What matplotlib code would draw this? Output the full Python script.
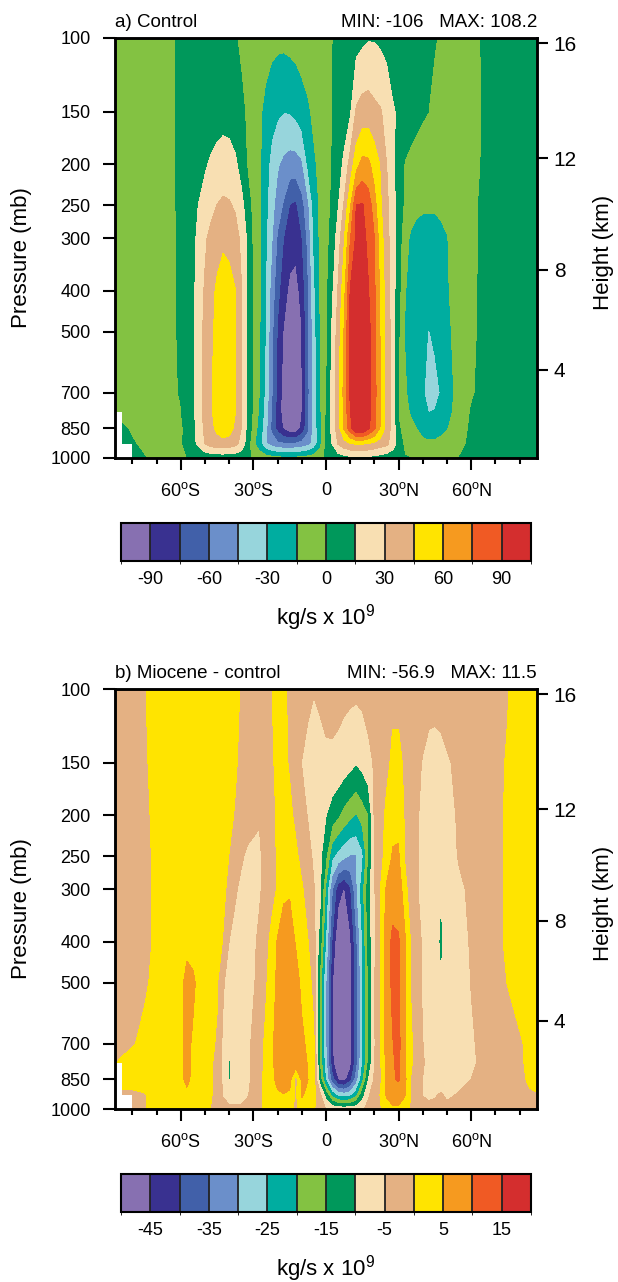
import numpy as np
import matplotlib
matplotlib.use("Agg")
import matplotlib.pyplot as plt
from matplotlib.colors import ListedColormap, BoundaryNorm
from matplotlib.cm import ScalarMappable
from matplotlib.ticker import NullLocator

plt.rcParams['font.family'] = ['Liberation Sans', 'DejaVu Sans']
plt.rcParams['mathtext.fontset'] = 'custom'
plt.rcParams['mathtext.rm'] = 'Liberation Sans'
plt.rcParams['mathtext.it'] = 'Liberation Sans:italic'
plt.rcParams['mathtext.bf'] = 'Liberation Sans:bold'

# ---------------- data ----------------
lats = [-87.2, -84.3, -80, -75, -70, -65, -60, -57.5, -55, -50,
        -47.5, -45, -42.5, -40, -37.5, -35, -32.5, -30, -27.5, -25,
        -22.5, -20, -17.5, -15, -12.5, -10, -7.5, -5, -2.5, 0,
        2.5, 5, 7.5, 10, 12.5, 15, 17.5, 20, 22.5, 25,
        27.5, 30, 32.5, 35, 37.5, 40, 42.5, 45, 47.5, 50,
        55, 60, 65, 70, 75, 80, 84.3, 87.2]
plevs = [1000, 925, 850, 775, 700, 500, 400, 300, 250, 200, 150, 100]

# mass streamfunction (kg/s x 1e9), one row per pressure level
psi_control = [
    [2, 2, 2, 0.3, -1.5, -2, -1, -0.3, 1.5, 3.5,
     4.5, 5, 5, 5, 4.5, 3.5, 1.5, -1.5, -4, -7,
     -9, -11, -12, -12, -12, -11, -9, -7, -3, 1,
     4, 7, 9, 11, 12, 12, 11, 10, 8, 6,
     4, 2.5, 1, -0.1, -1.5, -3, -4, -4, -3.5, -2.5,
     0.1, 2, 3, 4, 4, 4, 3, 3],
    [2, 2, 0.6, -1.5, -2.5, -2, -1.2, 2.7, 9.5, 30.3,
     36, 39, 40, 38, 34, 26, 7.2, -11.5, -25.2, -43.2,
     -52, -57, -59, -59.5, -58, -55, -50, -40.7, -20.2, 2.5,
     15, 31, 39, 44, 46, 46, 44, 41, 37, 33.5,
     23.3, 8.75, -4, -7, -9, -11, -12, -12, -11, -9,
     -3, 2, 4, 5, 5, 5, 4, 3],
    [2, 1, -1, -3, -3, -2, -2.5, 3.8, 10.6, 33.3,
     41.7, 48, 53, 51, 41.7, 30, 11.3, -6, -21.3, -39.7,
     -63.2, -80.4, -92, -100, -100, -86.5, -64.3, -40.7, -19.8, 2,
     19.8, 37.9, 62.1, 84.3, 105, 106, 93, 77.6, 58.5, 39.2,
     24.6, 1.5, -4.9, -10, -15.2, -21, -24, -23, -19, -16,
     -6.5, 2, 4, 5, 5, 5, 4, 3],
    [-1, -2, -3, -3, -3, -2, -0.5, 5.5, 11.5, 34.8,
     43.5, 50, 56, 54, 45.5, 31, 13, -3.5, -17.5, -36.6,
     -60.3, -81.3, -98, -106, -104, -91, -64.4, -39.6, -18, -0.6,
     20, 38.7, 63.2, 89.3, 106, 108, 96, 79.8, 60.3, 39.6,
     24.6, -1.5, -9.2, -17, -23, -27, -30.5, -29.5, -25, -19,
     -10, 0.7, 3, 4, 5, 5, 4, 3],
    [-2, -2, -3, -3, -3, -2, 0.5, 6, 11.8, 34.8,
     43.9, 50, 56, 54, 45.5, 31.1, 13.6, -3, -15.5, -34.2,
     -58, -80, -97, -106, -104, -91, -65, -38.7, -17, -2.5,
     20, 39.2, 65.4, 92, 106, 108, 96, 80.5, 60.3, 39.6,
     24.6, -1.7, -12.4, -20, -25, -28.5, -35, -34, -29.4, -21.2,
     -10, -1.4, 3, 4, 5, 5, 4, 3],
    [-3, -3, -3, -3, -3, -2, 1, 6, 11.6, 34.4,
     42.9, 48, 55, 51, 45.5, 31.1, 13.6, -2.6, -13.7, -30.7,
     -55.4, -76.8, -91.8, -103, -104, -90.6, -65, -37, -16.5, -5.2,
     17.1, 36.6, 61.2, 93, 106, 108, 95, 79.8, 58.3, 39.4,
     24, 1.4, -15.5, -21, -25, -28, -30.5, -28, -24, -18,
     -9.6, -2.1, 2, 4, 5, 5, 4, 3],
    [-3, -3, -3, -3, -3, -2, 1, 6.5, 11.8, 32,
     40.3, 47.5, 51, 49, 45.5, 31, 13.6, -2.4, -12.6, -30.2,
     -50.8, -71, -83.6, -94, -96, -85, -62.8, -34.1, -13.4, -4.4,
     11.8, 31.6, 54.6, 91, 100, 101, 91, 77.3, 56.7, 38.1,
     22.2, 4.4, -14, -19, -21, -23, -24, -23, -20, -16.3,
     -9.2, -2.4, 2, 4, 5, 5, 4, 3],
    [-3, -3, -3, -3, -3, -2, 1, 6, 10.9, 27.7,
     35, 40, 43, 42, 37, 26.5, 12.9, -4.1, -12.1, -27.6,
     -43.2, -62.5, -75.3, -83, -85, -76, -56.5, -28.6, -12.5, -5.6,
     5, 22.2, 43.9, 74, 93, 95, 86.4, 75.5, 51.7, 35.9,
     22, 7.2, -10, -17, -17.5, -17.5, -17.5, -17.5, -17, -15.5,
     -9.1, -3, 2, 4, 5, 5, 4, 3],
    [-3, -3, -3, -3, -3, -2, 1.4, 6, 10.3, 21,
     25, 30.2, 32.5, 31.5, 28, 20, 7, -5.4, -12.3, -25.7,
     -39.5, -51.6, -62, -75.5, -78, -65.7, -49.4, -25, -12.5, -5.7,
     1.9, 14, 32, 57, 90.5, 91, 84, 65.5, 47, 34.6,
     20, 8.4, -3, -9, -13.5, -14.2, -14.3, -14.2, -13.5, -12,
     -8, -3, 2, 4, 5, 5, 4, 3],
    [-3, -3, -3, -3, -3, -2, 1.5, 4.8, 7.7, 13.3,
     17, 20, 22, 21, 17.5, 9.5, -1.4, -7, -12.7, -24,
     -35.1, -43.6, -49, -52, -52, -48, -28.3, -17.6, -10.9, -5.4,
     0.2, 8.3, 18.1, 36.4, 54.4, 65, 63.3, 54.2, 43.7, 30.3,
     19, 7.9, -1, -4, -6, -8, -9, -10, -10, -9,
     -7, -4, 1, 3, 4, 5, 4, 3],
    [-3, -3, -3, -3, -3, -1.5, 1, 2.5, 4, 6.5,
     8, 9, 10, 9.5, 7, 2.5, -2, -6.5, -12.5, -19,
     -25, -28, -29.8, -29.5, -27, -22, -17.5, -12, -7, -3.7,
     -0.2, 3.5, 8, 13, 32, 37, 38, 34, 31.5, 24.4,
     16.5, 13, 9, 6, 3.5, 1.5, -0.2, -2.5, -4, -5,
     -5.5, -3.5, 0.5, 3, 4, 4, 4, 3],
    [-3, -3, -3, -3, -2.5, -1.2, 1, 2, 3, 4,
     4.5, 5, 5, 4, 0.7, -2, -4, -6, -8, -9.5,
     -11, -12, -12, -11, -10, -8.5, -7, -5, -3, -1.8,
     -0.4, 2, 5, 8, 10, 12, 14, 14, 12.5, 11,
     9, 7, 6, 5, 4, 3, 1.5, 0.4, -1, -2,
     -3, -1.5, 0.4, 2, 3, 3.5, 3.5, 3],
]

psi_diff = [
    [-1, -1, -1, -0.2, 1.5, 2.5, 3, 3, 3, 1.5,
     -0.2, -1.5, -3, -3.5, -3.5, -3.5, -3, -2, -1, 1,
     2.5, 3, 3, 2.5, -1.5, 3, 2.5, 0.5, -2.5, -5.2,
     -6, -7, -7, -7, -6.5, -5.5, -4, -2.5, -0.5, 3,
     4, 4, 2.5, -0.5, -2, -3, -3.5, -3.5, -3, -3.5,
     -3, -2.5, -2, -1.5, -1, -1, -0.5, -0.3],
    [2, -1, -1.5, -0.5, 2.5, 3.5, 4, 4.5, 4, 2,
     0.3, -1.5, -5.5, -8, -8.5, -8, -5.6, -3, -1.3, 1.5,
     3.5, 4.5, 4.8, 4, -1, 5.5, 4, 1.5, -3.5, -12.5,
     -22, -27, -28, -27, -22, -12.5, -5.5, -3, 0.3, 5.5,
     7.5, 7.5, 5.5, -0.3, -3, -5.2, -6, -5.5, -4.5, -6,
     -4.5, -3.5, -2.5, -1.5, -1.5, -1.2, -0.5, -0.3],
    [2, 2, 3, 3, 3.5, 4, 4.5, 5.5, 4.5, 2,
     0.3, -1.5, -6, -10.2, -9, -8.5, -6.5, -3.5, -1.5, 1.5,
     4, 6, 7.5, 7, -2, 6, 5.1, 1.5, -13, -26,
     -38, -45.5, -47, -42, -33, -22, -10.2, -4.3, -1, 6.5,
     9.5, 10.5, 6.5, -0.1, -3, -5.1, -6.5, -7, -7.5, -7.5,
     -7, -5, -4, -3, -2.3, -1, 0.7, 1.5],
    [-0.3, 1, 2.5, 3, 3.5, 4, 4.5, 5.7, 4.6, 2.3,
     0.5, -1.2, -6, -10.4, -9, -8.5, -6.8, -3.8, -2.2, 1,
     4, 6.8, 8.5, 9, 8.5, 7, 4.7, 1.5, -16, -29,
     -43, -53, -54, -47, -37, -25.5, -14.5, -5.2, -0.5, 6.5,
     9.5, 11, 6, 1, -2.5, -4.5, -6.5, -7.5, -8, -8,
     -7.5, -5.8, -4, -3, -2, -0.7, 1, 1.5],
    [-2.5, -2, -0.5, 1.5, 3, 3.5, 4.5, 5.8, 4.6, 2.5,
     1, -0.6, -6.3, -8, -9, -8.5, -6.5, -3.8, -2, 0.9,
     4, 7, 8.5, 9, 8.5, 6.5, 3.6, 0.6, -17, -30.2,
     -44.2, -55, -56, -48, -37.5, -26, -15.2, -5.6, 0.1, 7,
     9.8, 11.5, 5.5, 1, -2.5, -4.9, -7, -8, -8.5, -8.3,
     -7.5, -5.5, -4, -3, -2, -0.5, 1, 1.5],
    [-2, -2, -2, -0.8, 1.5, 2.5, 4.2, 6, 5.5, 3,
     1.8, 0.5, -4.4, -7.5, -9, -9, -8.5, -5.5, -3.5, -0.8,
     2.5, 6.2, 8.7, 9.3, 7.5, 3.5, 1.5, -1.2, -17, -30.2,
     -44.2, -54, -56.9, -47.5, -37.5, -26, -15.2, -5.2, 0.2, 8,
     10.8, 10.5, 6, -0.2, -3.5, -5.5, -7.5, -8.7, -9.9, -9,
     -7, -4.9, -3.5, -1.8, 0.1, 1.5, 2, 2],
    [-2, -2, -2, -1.2, 0.8, 2.5, 3.5, 4.2, 4, 3.5,
     2.8, 2, -0.3, -5.1, -7.5, -8.5, -8.5, -6.3, -3.5, -1.5,
     1.3, 5.6, 8, 7.5, 4.6, 2.5, 0.2, -3, -12.5, -26.2,
     -40.4, -50, -52, -46.3, -36.3, -25.3, -13.1, -6.2, -0.2, 8.2,
     10.8, 10.5, 6, -0.2, -3.5, -5.5, -7.5, -9, -10.5, -9,
     -7, -4.5, -3, -1.3, 0.7, 1.5, 2, 2],
    [-2, -2, -2, -1, 0.7, 2.5, 3, 3.3, 3.5, 3,
     2.6, 2.2, 0.8, -1, -4.2, -6.5, -7.5, -7.5, -5.8, -3,
     -1.5, 0.4, 4, 4.5, 3, 0.6, -2, -4.7, -8.5, -21.5,
     -34.5, -43, -45.5, -41, -31.2, -22.2, -12.3, -5.5, 0.1, 5.8,
     8.5, 8, 2.5, -3.5, -4.7, -6, -7.5, -8.7, -9.9, -8.5,
     -6, -4, -3, -1.5, 0.7, 1.5, 2, 2],
    [-2, -2, -2, -1, 0.8, 2.5, 3, 3.1, 3.2, 3,
     2.7, 2.3, 1.2, -0.1, -2, -4.2, -6, -6.5, -5.7, -3.5,
     -1.5, 0.5, 2.5, 2.5, 1, -1.5, -3.5, -5.8, -8.5, -14.6,
     -24, -27, -29, -30.5, -30.3, -26.5, -15.5, -4.5, -1.5, 1.8,
     5.5, 5.5, -0.3, -2.5, -4.5, -6, -7.5, -8, -8.3, -7.3,
     -4.6, -3.5, -2.5, -1, 0.5, 1.5, 2, 2],
    [-2, -2, -1.8, -1, 1.2, 2.5, 3, 3.1, 3.2, 3,
     2.8, 2.5, 1.5, 0.8, -0.3, -1.5, -2.5, -3.5, -4.7, -3.5,
     -1.5, 0.7, 2, 1, -1, -3.5, -5.2, -7.5, -9, -9.9,
     -12.5, -14.5, -17, -19, -20.5, -18, -15.3, -4.3, -2, 1,
     3.5, 4, -0.5, -2.5, -4.5, -6, -7, -7.5, -7.5, -6.8,
     -4.3, -3, -2, -1, 0.5, 1.5, 2, 2],
    [-2, -2, -1.5, -0.6, 1.5, 2.5, 3, 3, 3, 2.5,
     2.3, 2, 1.6, 1.2, 0.4, -0.8, -2, -2.5, -2.3, -1.8,
     -0.5, 0.8, 1, -0.4, -3, -5.1, -6.5, -7, -6.5, -6,
     -6, -6.5, -7.5, -8.5, -9.8, -8.5, -6.5, -4.5, -3, -1,
     0.8, 0.8, -0.5, -2.5, -4, -5.3, -6.5, -6.8, -6.5, -5.5,
     -4, -3, -2, -1, 0.3, 1.5, 2, 2],
    [-2, -2, -1.5, -0.2, 1.5, 2.5, 3, 3, 3, 2.5,
     2.3, 2, 1.6, 1.2, 0.6, -0.2, -1.5, -2, -2, -1.5,
     -0.1, 1, 0.7, -0.8, -2, -3, -4, -4.8, -4.3, -3.5,
     -3.3, -3.5, -3.8, -4, -4, -3.8, -3, -2.5, -2, -1.5,
     -0.8, -0.8, -1.5, -2, -2.5, -3, -3.5, -3.5, -3.3, -3,
     -2.5, -2, -1.5, -1, -0.2, 1.5, 2, 2],
]

# points below the ground (no data)
missing_points = [(1000, -87.2), (1000, -84.3), (925, -87.2), (850, -87.2)]

levels_control = [-90, -75, -60, -45, -30, -15, 0, 15, 30, 45, 60, 75, 90]
levels_diff = [-45, -40, -35, -30, -25, -20, -15, -10, -5, 0, 5, 10, 15]
cbar_ticks_control = [-90, -60, -30, 0, 30, 60, 90]
cbar_ticks_diff = [-45, -35, -25, -15, -5, 5, 15]

colors = ['#8770B1', '#393190', '#4160A9', '#6B8FCA', '#97D5DC', '#00ADA0',
          '#83C242', '#00985B', '#F8DFB2', '#E4B183', '#FFE400', '#F69A1F',
          '#F05A24', '#D42E2E']

lat_ticks = [-60, -30, 0, 30, 60]
lat_ticklabels = ['60$^{\\mathrm{o}}$S', '30$^{\\mathrm{o}}$S', '0',
                  '30$^{\\mathrm{o}}$N', '60$^{\\mathrm{o}}$N']
lat_minor = [-80, -70, -50, -40, -20, -10, 10, 20, 40, 50, 70, 80]
p_ticks = [1000, 850, 700, 500, 400, 300, 250, 200, 150, 100]
height_ticks_km = [4, 8, 12, 16]

# ---------------- figure ----------------
W, H = 618, 1282
fig = plt.figure(figsize=(W / 100, H / 100), dpi=100)


def fx(px):
    return px / W


def fy(py):
    return 1 - py / H


def std_atm_pressure(z_km):
    if z_km <= 11:
        return 1013.25 * (1 - 0.0065 * z_km * 1000 / 288.15) ** 5.2559
    return 226.32 * np.exp(-9.80665 / (287.05 * 216.65) * (z_km - 11) * 1000)


def panel(top, data, levels, title_l, title_r, cb_top, cb_ticks, cb_lo, cb_hi):
    ax = fig.add_axes([fx(115), fy(top + 420), fx(537) - fx(115), 420 / H])
    Z = np.array(data, dtype=float)
    mask = np.zeros_like(Z, dtype=bool)
    for p, la in missing_points:
        mask[plevs.index(p), lats.index(la)] = True
    Z = np.ma.array(Z, mask=mask)
    lv = [-1e4] + levels + [1e4]
    ax.contourf(lats, plevs, Z, levels=lv, colors=colors, antialiased=False,
                corner_mask=False)
    ax.set_yscale('log')
    ax.set_ylim(1000, 100)
    ax.set_xlim(lats[0], lats[-1])
    ax.set_yticks(p_ticks)
    ax.set_yticklabels([str(p) for p in p_ticks])
    ax.yaxis.set_minor_locator(NullLocator())
    ax.set_xticks(lat_ticks)
    ax.set_xticklabels(lat_ticklabels)
    ax.set_xticks(lat_minor, minor=True)
    ax.tick_params(axis='both', which='major', direction='out', length=8.5,
                   width=1.5, labelsize=13, pad=9)
    ax.tick_params(axis='x', which='minor', direction='out', length=4.3, width=1.5)
    for s in ax.spines.values():
        s.set_linewidth(1.8)
    ax.set_title(title_l, loc='left', fontsize=13.5, pad=8)
    ax.set_title(title_r, loc='right', fontsize=13.5, pad=8)

    ax2 = ax.twinx()
    ax2.set_yscale('log')
    ax2.set_ylim(1000, 100)
    ax2.set_yticks([std_atm_pressure(z) for z in height_ticks_km])
    ax2.set_yticklabels([str(z) for z in height_ticks_km])
    ax2.yaxis.set_minor_locator(NullLocator())
    ax2.tick_params(axis='y', direction='out', length=8, width=1.5,
                    labelsize=15, pad=4)
    for s in ax2.spines.values():
        s.set_linewidth(1.8)

    fig.text(fx(22), fy(top + 220), 'Pressure (mb)', rotation=90,
             ha='center', va='center', fontsize=16)
    fig.text(fx(603), fy(top + 214), 'Height (km)', rotation=90,
             ha='center', va='center', fontsize=16)

    cax = fig.add_axes([fx(121), fy(cb_top + 38), fx(531) - fx(121), 38 / H])
    bounds = [cb_lo] + levels + [cb_hi]
    sm = ScalarMappable(norm=BoundaryNorm(bounds, len(colors)),
                        cmap=ListedColormap(colors))
    cb = fig.colorbar(sm, cax=cax, orientation='horizontal',
                      drawedges=True, ticks=cb_ticks)
    cb.set_ticklabels([str(t) for t in cb_ticks])
    cb.ax.tick_params(length=0, labelsize=13, pad=7)
    cb.outline.set_linewidth(1.5)
    cb.dividers.set_color('#222222')
    cb.dividers.set_linewidth(1.3)
    fig.text(fx(326), fy(cb_top + 101), 'kg/s x 10$^{9}$', ha='center',
             va='baseline', fontsize=16)


panel(38, psi_control, levels_control, 'a) Control', 'MIN: -106   MAX: 108.2',
      523, cbar_ticks_control, -105, 105)
panel(689, psi_diff, levels_diff, 'b) Miocene - control', 'MIN: -56.9   MAX: 11.5',
      1174, cbar_ticks_diff, -50, 20)

fig.savefig('out.png', dpi=100)
